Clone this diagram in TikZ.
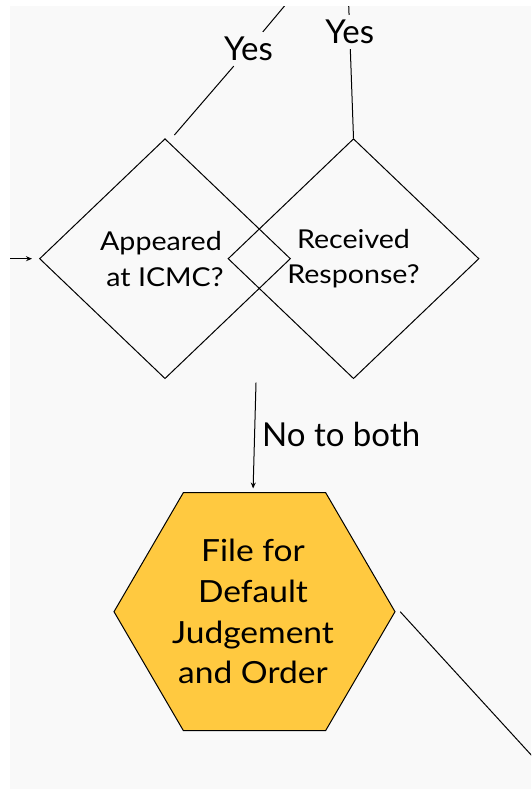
\documentclass[tikz,border=0pt]{standalone}
\usepackage{fontspec}
\setmainfont{Lato}
\newfontfamily\widefont{Lato}[FakeStretch=1.1]
\usetikzlibrary{shapes.geometric,arrows.meta}
\definecolor{canvas}{HTML}{F9F9F9}
\definecolor{amber}{HTML}{FFC940}
\begin{document}
\begin{tikzpicture}[x=1pt,y=-1pt,
  conn/.style={draw=black,line width=1pt},
  tipped/.style={-{Stealth[length=6pt,width=5pt]}},
  decision/.style={diamond,draw=black,line width=1pt,minimum width=251pt,
    minimum height=240pt,inner sep=0pt,align=center,
    font=\widefont\fontsize{26}{35.8}\selectfont},
  hexbody/.style={fill=amber,draw=black,line width=1pt,line join=miter},
  hextext/.style={align=center,inner sep=0pt,minimum width=281pt,
    minimum height=237pt,font=\widefont\fontsize{30.5}{40.7}\selectfont},
  edgelabel/.style={inner sep=5pt,font=\fontsize{33}{40}\selectfont}]
\useasboundingbox (0,0) rectangle (531,790);
\fill[canvas] (10,6) rectangle (531,789);
\begin{scope}
\clip (10,6) rectangle (531,789);

% the two overlapping decisions
\node[decision] (ldia) at (165,258.7) {Appeared\hspace*{8pt}\\at ICMC?};
\node[decision] (rdia) at (353.5,258.7) {Received\\Response?};

% default judgement step
\draw[hexbody] (114,611.7) -- (183.3,492.7) -- (325.7,492.7) -- (395,611.7)
  -- (325.7,730.5) -- (183.3,730.5) -- cycle;
\node[hextext] (hex) at (253,611.7) {File for\\Default\\Judgement\\and Order};

% incoming "Yes" branches
\coordinate (srcA) at (289.5,0);
\node[edgelabel] (yesA) at (248.5,49) {Yes};
\draw[conn] (srcA) -- (yesA);
\draw[conn] (yesA) -- ([shift={(9.4,-3.2)}]ldia.north);

\coordinate (srcB) at (348.5,0);
\node[edgelabel] (yesB) at (349.7,32) {Yes};
\draw[conn] (srcB) -- (yesB);
\draw[conn] (yesB) -- (rdia.north);

% entry from the left
\coordinate (entry) at (10,258.7);
\draw[conn,tipped,shorten >=7pt] (entry) -- (ldia.west);

% both negative
\coordinate (split) at (256,382.7);
\draw[conn,tipped,shorten >=4.5pt] (split) -- (hex.north);
\node[anchor=base west,inner sep=0pt,font=\fontsize{33}{40}\selectfont] (noboth) at (262,446) {No to both};

% onward from the step
\coordinate (onward) at (540,764.6);
\draw[conn] ([shift={(6.5,0)}]hex.east) -- (onward);
\end{scope}
\end{tikzpicture}
\end{document}
